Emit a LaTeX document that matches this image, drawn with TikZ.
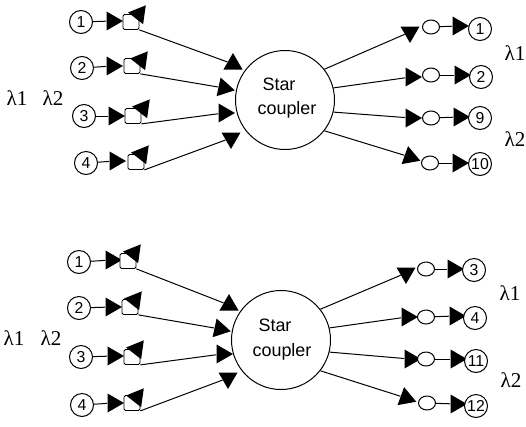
\documentclass[tikz,border=0pt]{standalone}
\usepackage{fontspec}
\setmainfont{Liberation Sans}
\newfontfamily\lambdafont{Liberation Serif}
\usetikzlibrary{positioning,shapes.geometric}
\tikzset{arista/.style={line width=0.2mm}}
\tikzset{estacion/.style={draw,circle,fill=white,line width=0.2mm,minimum size=4.6mm,inner sep=0pt,font=\fontsize{9}{9}\selectfont}}
\tikzset{triangulo/.style={regular polygon,regular polygon sides=3,fill=black,inner sep=0pt,minimum size=4.4mm,rotate=#1-90}}
\tikzset{caja/.style={draw,fill=white,line width=0.15mm,rounded corners=0.3mm,minimum width=3.2mm,minimum height=3mm,inner sep=0pt}}
\tikzset{anillo/.style={draw,ellipse,fill=white,line width=0.2mm,minimum width=3.4mm,minimum height=2.8mm,inner sep=0pt}}
\tikzset{estrella/.style={draw,circle,line width=0.2mm,minimum size=19.8mm,inner sep=0pt}}
\tikzset{rotulo/.style={font=\fontsize{10.2}{15}\selectfont,align=center}}
\tikzset{onda/.style={font=\lambdafont\fontsize{12}{12}\selectfont}}

\begin{document}
\begin{tikzpicture}[x=0.2mm,y=-0.2mm]
            \useasboundingbox (0,0) rectangle (526,426);

            % upper coupler
            \node[estrella] (s) at (285,100) {};
            \node[rotulo] (st) at (279,84) {Star};
            \node[rotulo] (sc) at (287,110) {coupler};

            \node[estacion] (a1) at (81,22) {1};
            \node[triangulo=0] (b1) at (112,21) {};
            \node[caja] (c1) at (131,22) {};
            \node[triangulo=172] (d1) at (139,14) {};
            \node[triangulo=-30] (e1) at (233,64) {};
            \node[estacion] (a2) at (82,68) {2};
            \node[triangulo=0] (b2) at (112,66) {};
            \node[caja] (c2) at (132,66) {};
            \node[triangulo=172] (d2) at (141,60) {};
            \node[triangulo=-12] (e2) at (224,88) {};
            \node[estacion] (a3) at (84,116) {3};
            \node[triangulo=0] (b3) at (114,116) {};
            \node[caja] (c3) at (133,116) {};
            \node[triangulo=172] (d3) at (143,108) {};
            \node[triangulo=0] (e3) at (224,113) {};
            \node[estacion] (a4) at (86,163) {4};
            \node[triangulo=0] (b4) at (115,161) {};
            \node[caja] (c4) at (136,162) {};
            \node[triangulo=172] (d4) at (142,154) {};
            \node[triangulo=30] (e4) at (231,138) {};

            \node[triangulo=30] (f1) at (410,32) {};
            \node[anillo] (g1) at (431,27) {};
            \node[triangulo=0] (h1) at (458,26) {};
            \node[estacion] (k1) at (480,29) {1};
            \node[triangulo=0] (f2) at (411,77) {};
            \node[anillo] (g2) at (431,75) {};
            \node[triangulo=0] (h2) at (460,75) {};
            \node[estacion] (k2) at (481,77) {2};
            \node[triangulo=0] (f3) at (411,118) {};
            \node[anillo] (g3) at (431,118) {};
            \node[triangulo=0] (h3) at (459,117) {};
            \node[estacion] (k3) at (480,118) {9};
            \node[triangulo=-20] (f4) at (410,157) {};
            \node[anillo] (g4) at (430,163) {};
            \node[triangulo=0] (h4) at (458,163) {};
            \node[estacion] (k4) at (480,164) {10};

            \node[onda] (l1) at (17,98) {λ1};
            \node[onda] (l2) at (53,98) {λ2};
            \node[onda] (l3) at (515,53) {λ1};
            \node[onda] (l4) at (515,139) {λ2};

            \draw[arista] (a1) to (b1);
            \draw[arista] (a2) to (b2);
            \draw[arista] (a3) to (b3);
            \draw[arista] (a4) to (b4);
            \draw[arista] (c1.south east) to (e1);
            \draw[arista] (c2.south east) to (e2);
            \draw[arista] (c3.south east) to (e3);
            \draw[arista] (c4.south east) to (e4);
            \draw[arista] (s.38) to (f1);
            \draw[arista] (s.14) to (f2);
            \draw[arista] (s.-14) to (f3);
            \draw[arista] (s.-38) to (f4);
            \draw[arista] (g1) to (h1);
            \draw[arista] (g2) to (h2);
            \draw[arista] (g3) to (h3);
            \draw[arista] (g4) to (h4);

            % lower coupler
            \node[estrella] (t) at (281,340) {};
            \node[rotulo] (tt) at (275,325) {Star};
            \node[rotulo] (tc) at (282,352) {coupler};

            \node[estacion] (m1) at (79,262) {1};
            \node[triangulo=0] (n1) at (111,260) {};
            \node[caja] (o1) at (128,261) {};
            \node[triangulo=172] (p1) at (134,253) {};
            \node[triangulo=-30] (q1) at (229,305) {};
            \node[estacion] (m2) at (79,308) {2};
            \node[triangulo=0] (n2) at (111,307) {};
            \node[caja] (o2) at (130,307) {};
            \node[triangulo=172] (p2) at (135,300) {};
            \node[triangulo=-12] (q2) at (220,329) {};
            \node[estacion] (m3) at (81,357) {3};
            \node[triangulo=0] (n3) at (113,356) {};
            \node[caja] (o3) at (132,357) {};
            \node[triangulo=172] (p3) at (137,349) {};
            \node[triangulo=0] (q3) at (222,354) {};
            \node[estacion] (m4) at (82,405) {4};
            \node[triangulo=0] (n4) at (113,403) {};
            \node[caja] (o4) at (132,403) {};
            \node[triangulo=172] (p4) at (137,397) {};
            \node[triangulo=30] (q4) at (228,378) {};

            \node[triangulo=30] (u1) at (406,273) {};
            \node[anillo] (v1) at (426,269) {};
            \node[triangulo=0] (w1) at (453,269) {};
            \node[estacion] (z1) at (474,270) {3};
            \node[triangulo=0] (u2) at (407,317) {};
            \node[anillo] (v2) at (426,317) {};
            \node[triangulo=0] (w2) at (455,316) {};
            \node[estacion] (z2) at (475,318) {4};
            \node[triangulo=0] (u3) at (410,359) {};
            \node[anillo] (v3) at (426,359) {};
            \node[triangulo=0] (w3) at (456,359) {};
            \node[estacion] (z3) at (476,361) {11};
            \node[triangulo=-20] (u4) at (406,398) {};
            \node[anillo] (v4) at (427,403) {};
            \node[triangulo=0] (w4) at (456,404) {};
            \node[estacion] (z4) at (476,406) {12};

            \node[onda] (r1) at (14,338) {λ1};
            \node[onda] (r2) at (51,338) {λ2};
            \node[onda] (r3) at (510,293) {λ1};
            \node[onda] (r4) at (511,380) {λ2};

            \draw[arista] (m1) to (n1);
            \draw[arista] (m2) to (n2);
            \draw[arista] (m3) to (n3);
            \draw[arista] (m4) to (n4);
            \draw[arista] (o1.south east) to (q1);
            \draw[arista] (o2.south east) to (q2);
            \draw[arista] (o3.south east) to (q3);
            \draw[arista] (o4.south east) to (q4);
            \draw[arista] (t.38) to (u1);
            \draw[arista] (t.14) to (u2);
            \draw[arista] (t.-14) to (u3);
            \draw[arista] (t.-38) to (u4);
            \draw[arista] (v1) to (w1);
            \draw[arista] (v2) to (w2);
            \draw[arista] (v3) to (w3);
            \draw[arista] (v4) to (w4);
        \end{tikzpicture}
\end{document}
